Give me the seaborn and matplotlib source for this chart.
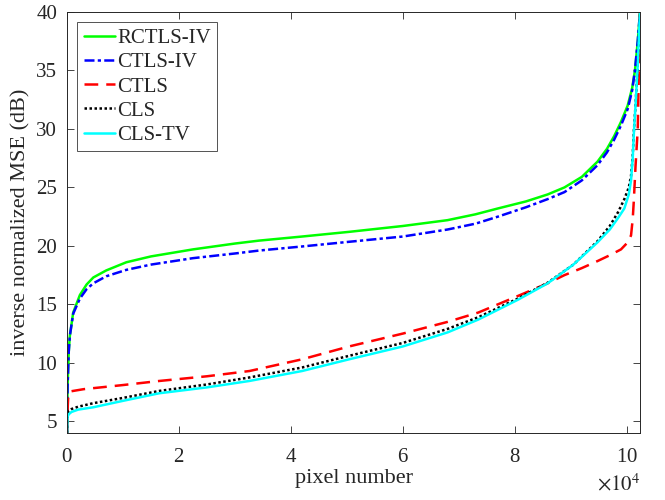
# inverse normalized MSE per pixel, sorted curves for the five methods
import pandas as pd
import matplotlib
matplotlib.use("Agg")
import matplotlib.pyplot as plt
import matplotlib.ticker as mticker
import seaborn as sns

## Data (x in units of 1e4 pixels, y in dB)
rctls_iv_x = [0, 0.01, 0.03, 0.05, 0.11, 0.23, 0.35, 0.47, 0.7, 1.06, 1.5, 2.25, 3.0, 3.43, 4.2, 5.04, 6.0, 6.8, 7.3, 7.7,
              8.2, 8.59, 8.89, 9.2, 9.48, 9.65, 9.78, 9.9, 10.02, 10.1, 10.15, 10.2, 10.24]
rctls_iv_y = [4, 8, 10.9, 12.3, 14.3, 15.8, 16.7, 17.3, 17.9, 18.6, 19.1, 19.7, 20.2, 20.45, 20.8, 21.2, 21.7, 22.2, 22.7, 23.2,
              23.8, 24.4, 25.0, 25.9, 27.2, 28.3, 29.4, 30.6, 32.0, 33.5, 35, 37.5, 40]

ctls_iv_x = rctls_iv_x
ctls_iv_y = [4, 8, 10.9, 12.3, 14.2, 15.5, 16.3, 16.8, 17.4, 17.95, 18.4, 18.95, 19.35, 19.6, 19.95, 20.35, 20.8, 21.4, 21.9, 22.5,
             23.3, 24.0, 24.6, 25.6, 26.9, 28.0, 29.1, 30.3, 31.7, 33.3, 35, 37.5, 40]

ctls_x = [0, 0.01, 0.02, 0.05, 0.3, 1.0, 1.65, 2.5, 3.26, 4.2, 5.04, 6.0, 6.8, 7.35, 8.0, 8.59, 8.89, 9.2, 9.48, 9.7,
          9.9, 10.02, 10.08, 10.11, 10.13, 10.16, 10.2, 10.24]
ctls_y = [4, 6, 7.0, 7.55, 7.75, 8.1, 8.45, 8.85, 9.3, 10.3, 11.4, 12.5, 13.5, 14.3, 15.6, 16.8, 17.5, 18.1, 18.7, 19.2,
          19.7, 20.3, 20.9, 22.3, 23.9, 26.8, 30, 40]

cls_x = [0, 0.01, 0.03, 0.08, 0.2, 0.47, 1.0, 1.65, 2.5, 3.26, 4.2, 5.04, 6.0, 6.8, 7.35, 8.06, 8.59, 9.05, 9.48,
         9.7, 9.85, 9.96, 10.04, 10.08, 10.11, 10.13, 10.16, 10.2, 10.24]
cls_y = [4, 5.6, 5.9, 6.05, 6.25, 6.55, 7.0, 7.6, 8.15, 8.75, 9.6, 10.6, 11.7, 12.9, 13.9, 15.5, 16.85, 18.4, 20.4,
         21.7, 22.9, 24.0, 25.0, 26.0, 27.7, 29.8, 32, 35.5, 40]

cls_tv_x = cls_x
cls_tv_y = [4, 5.4, 5.6, 5.8, 6.0, 6.2, 6.75, 7.4, 7.9, 8.45, 9.3, 10.3, 11.4, 12.6, 13.7, 15.4, 16.8, 18.4, 20.3,
            21.4, 22.4, 23.2, 24.4, 25.6, 27.5, 29.6, 32, 35.5, 40]

labels = ["RCTLS-IV", "CTLS-IV", "CTLS", "CLS", "CLS-TV"]
colors = ["#00FF00", "#0000FF", "#FF0000", "#000000", "#00FFFF"]
dashes = [None, (4.0, 1.3, 1.3, 1.3), (5.5, 3.2), (1, 1), None]
series = [(rctls_iv_x, rctls_iv_y), (ctls_iv_x, ctls_iv_y), (ctls_x, ctls_y),
          (cls_x, cls_y), (cls_tv_x, cls_tv_y)]

## Style (MATLAB-like look)
sns.set_theme(style="ticks")
plt.rcParams["font.family"] = ["Liberation Serif", "DejaVu Serif"]
plt.rcParams["mathtext.fontset"] = "stix"
axis_col = "#262626"

fig = plt.figure(figsize=(6.65, 5.0), dpi=100)
ax = fig.add_axes([0.1008, 0.134, 0.8616, 0.842])

for (xs, ys), lab, col, d in zip(series, labels, colors, dashes):
    df = pd.DataFrame({"pixel": [v * 1e4 for v in xs], "mse": ys})
    sns.lineplot(data=df, x="pixel", y="mse", ax=ax, color=col, lw=1.8,
                 label=lab, sort=False, estimator=None)
    if d is not None:
        ax.lines[-1].set_dashes(d)

ax.set_xlim(0, 102400)
ax.set_ylim(4, 40)
ax.set_xticks([0, 2e4, 4e4, 6e4, 8e4, 10e4])
ax.set_yticks([5, 10, 15, 20, 25, 30, 35, 40])
fmt = mticker.ScalarFormatter(useMathText=True)
fmt.set_powerlimits((4, 4))
ax.xaxis.set_major_formatter(fmt)
ax.xaxis.get_offset_text().set_visible(False)
# exponent label placed like MATLAB's, below the last tick label
ax.text(1.0, -0.122, r"$\times10^{4}$", transform=ax.transAxes, ha="right",
        va="center", fontsize=15, color=axis_col)

ax.set_xlabel("pixel number", fontsize=16, color=axis_col, labelpad=1)
ax.set_ylabel("inverse normalized MSE (dB)", fontsize=16, color=axis_col, labelpad=4)
ax.tick_params(direction="in", length=5, width=0.6, top=True, right=True,
               labelsize=15, colors=axis_col, pad=7)
ax.tick_params(axis="x", pad=11)
for s in ax.spines.values():
    s.set_color(axis_col)
    s.set_linewidth(0.7)

leg = ax.legend(loc="upper left", fontsize=15, frameon=True, fancybox=False,
                edgecolor=axis_col, handlelength=1.5, handletextpad=0.1,
                labelspacing=0.22, borderpad=0.3, borderaxespad=0.5)
leg.get_frame().set_linewidth(0.7)

plt.savefig("out.png", dpi=100)
plt.close()
